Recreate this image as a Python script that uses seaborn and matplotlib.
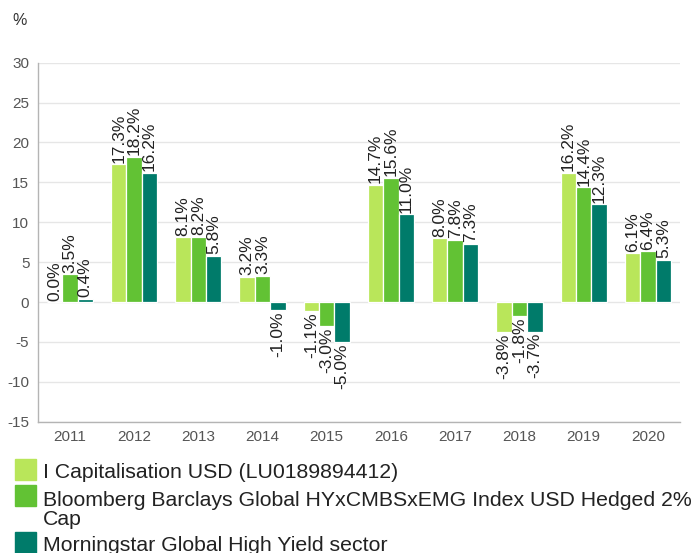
"""
Calendar-year performance: fund vs index vs sector.
"""
import pandas as pd
import numpy as np
import matplotlib
matplotlib.use('Agg')
import matplotlib.pyplot as plt
from matplotlib.patches import Rectangle
import seaborn as sns

sns.set_style("white")
plt.rcParams['font.family'] = ['Liberation Sans', 'DejaVu Sans']
plt.rcParams['axes.unicode_minus'] = False

years = ['2011', '2012', '2013', '2014', '2015', '2016', '2017', '2018', '2019', '2020']
series = ['I Capitalisation USD (LU0189894412)',
          'Bloomberg Barclays Global HYxCMBSxEMG Index USD Hedged 2%\nCap',
          'Morningstar Global High Yield sector']
fund = [0.0, 17.3, 8.1, 3.2, -1.1, 14.7, 8.0, -3.8, 16.2, 6.1]
index = [3.5, 18.2, 8.2, 3.3, -3.0, 15.6, 7.8, -1.8, 14.4, 6.4]
sector = [0.4, 16.2, 5.8, -1.0, -5.0, 11.0, 7.3, -3.7, 12.3, 5.3]
colors = ['#b9e65a', '#62c234', '#007b6a']

df = pd.DataFrame({
    'year': years * 3,
    'series': [series[0]] * 10 + [series[1]] * 10 + [series[2]] * 10,
    'value': fund + index + sector,
})

fig = plt.figure(figsize=(6.96, 5.53), dpi=100)
ax = fig.add_axes([37.7 / 696, 1 - 421.7 / 553, (680 - 37.7) / 696, (421.7 - 62.7) / 553])

sns.barplot(data=df, x='year', y='value', hue='series', hue_order=series,
            order=years, palette=colors, saturation=1, width=0.72,
            edgecolor='white', linewidth=0.9, legend=False, ax=ax)

for cont in ax.containers:
    ax.bar_label(cont, fmt='{:.1f}%', rotation=90, padding=1,
                 fontsize=12.5, color='#222222')

ax.set_ylim(-15, 30)
ax.set_yticks(np.arange(-15, 31, 5))
ax.set_xlim(-0.5, 9.5)
ax.set_xlabel('')
ax.set_ylabel('')
ax.yaxis.grid(True, color='#e6e6e6', linewidth=1)
ax.set_axisbelow(True)
for s in ['top', 'right']:
    ax.spines[s].set_visible(False)
for s in ['left', 'bottom']:
    ax.spines[s].set_color('#b4b4b4')
    ax.spines[s].set_linewidth(1)
ax.tick_params(axis='both', length=0, labelsize=11, colors='#555555')
ax.tick_params(axis='x', pad=6)
ax.tick_params(axis='y', pad=6)

fig.text(12 / 696, 1 - 25 / 553, '%', fontsize=11.5, color='#333333')

# legend drawn by hand so the swatch lines up with the first line of text
# (baseline of a wrapped label is that of its last line)
sw_top = [459, 485, 532]
baselines = [478, 525, 551]
for col, lab, top, base in zip(colors, series, sw_top, baselines):
    fig.add_artist(Rectangle((15 / 696, 1 - (top + 21) / 553), 21 / 696, 21 / 553,
                             transform=fig.transFigure, color=col))
    fig.text(43 / 696, 1 - base / 553, lab, fontsize=15.3, color='#222222',
             va='baseline', ha='left', linespacing=1.02)

fig.savefig('out.png', dpi=100)
